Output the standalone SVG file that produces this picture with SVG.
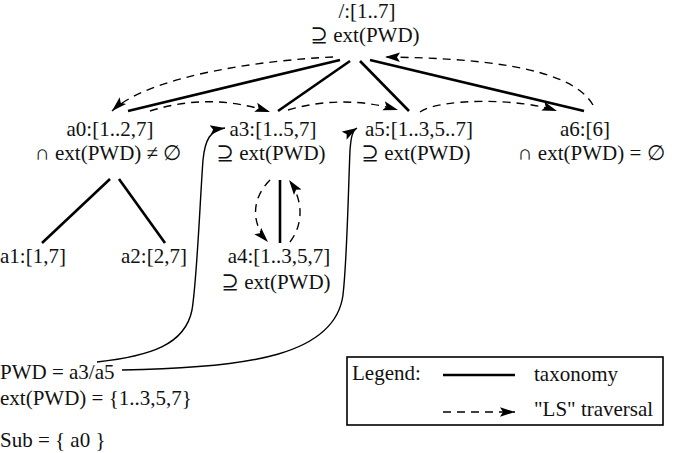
<svg xmlns="http://www.w3.org/2000/svg" width="675" height="453" viewBox="0 0 675 453">
  <defs>
    <marker id="head" markerUnits="userSpaceOnUse" markerWidth="16" markerHeight="11" refX="15" refY="5.5" orient="auto">
      <path d="M0,0.8 L15,5.5 L0,10.2 L3,5.5 z" fill="#000"/>
    </marker>
  </defs>
  <style>
    text { font-family: "Liberation Serif", "DejaVu Serif", serif; font-size: 21px; fill: #111; }
    .c { text-anchor: middle; }
    .tax { fill: none; stroke: #000; stroke-width: 2.6; stroke-linecap: butt; }
    .ls { fill: none; stroke: #000; stroke-width: 1.4; stroke-dasharray: 8 6; marker-end: url(#head); }
    .link { fill: none; stroke: #000; stroke-width: 1.4; marker-end: url(#head); }
    .box { fill: #fff; stroke: #000; stroke-width: 1.6; }
  </style>
  <rect width="675" height="453" fill="#fff"/>

  <!-- connectors: taxonomy edges, LS traversal, and PWD links -->
  <g id="connectors">
    <path class="tax" d="M340,60 L128,111"/>
    <path class="tax" d="M350,61 L278,111"/>
    <path class="tax" d="M360,61 L409,111"/>
    <path class="tax" d="M370,60 L584,111"/>
    <path class="tax" d="M110,179 L42,243"/>
    <path class="tax" d="M119,179 L165,243"/>
    <path class="tax" d="M280,180 L280,243"/>

    <path class="ls" d="M333,57 C265,60 150,75 112,111"/>
    <path class="ls" d="M150,111 Q210,92 270,112"/>
    <path class="ls" d="M288,110 Q343,94 398,110"/>
    <path class="ls" d="M420,112 C440,98 520,98 557,111"/>
    <path class="ls" d="M593,105 C570,65 470,58 385,57"/>
    <path class="ls" d="M270,180 C250,200 252,225 268,242"/>
    <path class="ls" d="M290,242 C305,222 302,198 289,180"/>

    <path class="link" d="M97,362 C150,356 185,345 192,310 C197,280 200,200 203,160 C205,140 210,130 225,128"/>
    <path class="link" d="M122,370 C250,368 335,355 343,295 C347,260 348,200 350,150 C351,138 352,131 357,128"/>
  </g>

  <g id="root">
    <text class="c" x="367" y="18">/:[1..7]</text>
    <text class="c" x="365" y="42">⊇ ext(PWD)</text>
  </g>
  <g id="a0">
    <text class="c" x="110" y="136">a0:[1..2,7]</text>
    <text class="c" x="108" y="160">∩ ext(PWD) ≠ ∅</text>
  </g>
  <g id="a1">
    <text x="0" y="263">a1:[1,7]</text>
  </g>
  <g id="a2">
    <text x="121" y="263">a2:[2,7]</text>
  </g>
  <g id="a3">
    <text class="c" x="273" y="136">a3:[1..5,7]</text>
    <text class="c" x="271" y="160">⊇ ext(PWD)</text>
  </g>
  <g id="a4">
    <text class="c" x="279" y="263">a4:[1..3,5,7]</text>
    <text class="c" x="276" y="289">⊇ ext(PWD)</text>
  </g>
  <g id="a5">
    <text class="c" x="419" y="136">a5:[1..3,5..7]</text>
    <text class="c" x="416" y="160">⊇ ext(PWD)</text>
  </g>
  <g id="a6">
    <text class="c" x="585" y="136">a6:[6]</text>
    <text class="c" x="591" y="160">∩ ext(PWD) = ∅</text>
  </g>

  <g id="pwd-info">
    <text x="0" y="379">PWD = a3/a5</text>
    <text x="0" y="405">ext(PWD) = {1..3,5,7}</text>
    <text x="0" y="447">Sub = { a0 }</text>
  </g>

  <g id="legend">
    <rect class="box" x="347" y="357" width="316" height="68"/>
    <text x="352" y="380">Legend:</text>
    <path class="tax" d="M443,375 L515,375"/>
    <text x="534" y="381">taxonomy</text>
    <path class="ls" d="M443,412 L515,412"/>
    <text x="534" y="416">"LS" traversal</text>
  </g>
</svg>
